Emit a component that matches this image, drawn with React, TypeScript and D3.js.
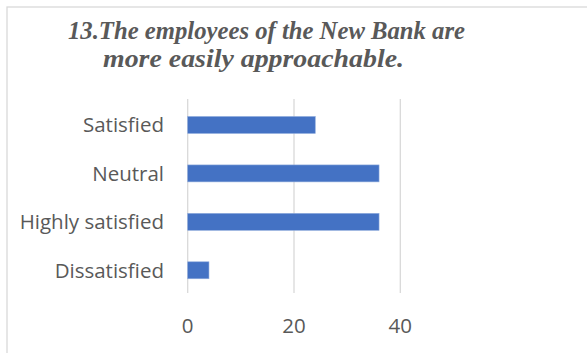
import React from "react";
import * as d3 from "d3";

const categories = ["Satisfied", "Neutral", "Highly satisfied", "Dissatisfied"];
const values = [24, 36, 36, 4];
const xTicks = [0, 20, 40];
const titleLines = ["13.The employees of the New Bank are", "more easily approachable."];

export default function App() {
  const W = 587, H = 353;
  const x = d3.scaleLinear().domain([0, 40]).range([187.7, 400.3]);
  const y = d3.scaleBand<string>().domain(categories).range([100.75, 294.5]).paddingInner(0.65).paddingOuter(0.325);
  const grey = "#595959";
  const titleX = [68, 103];
  const titleLen = [397, 301];
  return (
    <svg width={W} height={H} style={{ position: "absolute", left: 0, top: 0 }}>
      <rect x={0} y={0} width={W} height={H} fill="#fff" />
      <rect x={7} y={7} width={W + 20} height={H + 20} fill="none" stroke="#d9d9d9" strokeWidth={1.3} />
      {titleLines.map((t, i) => (
        <text key={i} x={titleX[i]} y={38.5 + i * 28.5} textAnchor="start"
          textLength={titleLen[i]} lengthAdjust="spacingAndGlyphs"
          fontFamily="'Liberation Serif', 'Times New Roman', serif" fontStyle="italic" fontWeight="bold"
          fontSize={25} fill={grey}>{t}</text>
      ))}
      {xTicks.map((t) => (
        <line key={t} x1={x(t)} x2={x(t)} y1={99} y2={293} stroke="#d9d9d9" strokeWidth={1.3} />
      ))}
      {categories.map((c, i) => (
        <rect key={c} x={x(0)} y={y(c)!} width={x(values[i]) - x(0)} height={y.bandwidth()}
          fill="#4472c4" stroke="#8eaadc" strokeWidth={0.6} />
      ))}
      {categories.map((c) => (
        <text key={c} x={164} y={y(c)! + y.bandwidth() / 2} dy="0.36em" textAnchor="end"
          fontFamily="'Open Sans', sans-serif" fontSize={20.5} fill={grey}>{c}</text>
      ))}
      {xTicks.map((t) => (
        <text key={t} x={x(t)} y={326} dy="0.36em" textAnchor="middle"
          fontFamily="'Open Sans', sans-serif" fontSize={20.5} fill={grey}>{t}</text>
      ))}
    </svg>
  );
}
